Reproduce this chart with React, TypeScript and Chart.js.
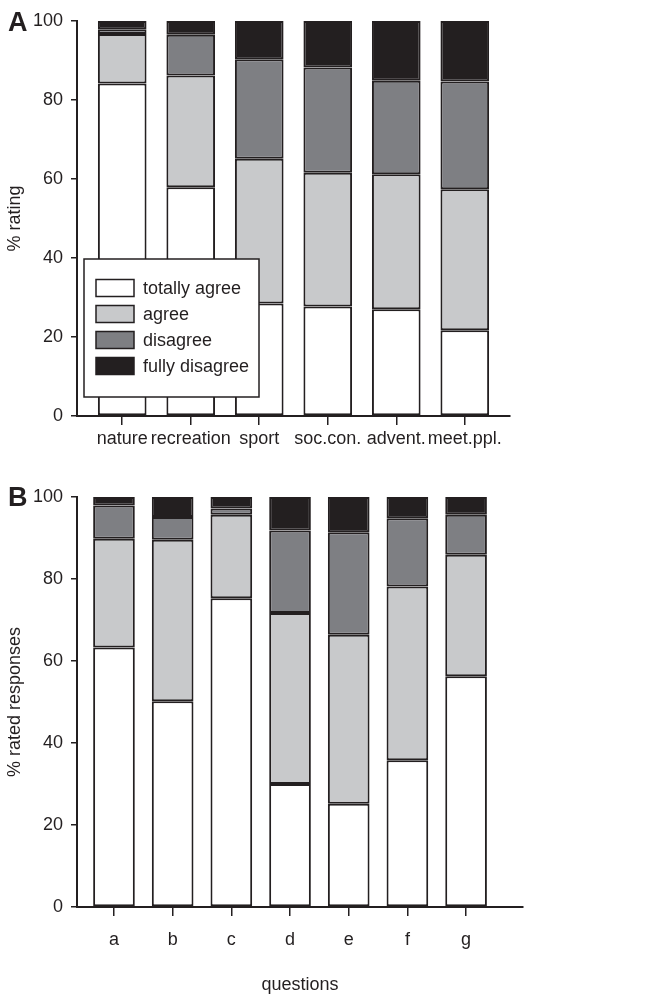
import React, { useEffect, useRef } from "react";
import { Chart, registerables } from "chart.js";

Chart.register(...registerables);

const seriesNames = ["totally agree", "agree", "disagree", "fully disagree"];
const seriesColors = ["#FFFFFF", "#C8C9CB", "#7E7F83", "#231F20"];

const categoriesA = ["nature", "recreation", "sport", "soc.con.", "advent.", "meet.ppl."];
const totallyAgreeA = [84.2, 57.9, 28.5, 27.7, 27.0, 21.7];
const agreeA = [12.5, 28.3, 36.6, 33.9, 34.2, 35.7];
const disagreeA = [1.2, 10.3, 25.2, 26.6, 23.7, 27.3];
const fullyDisagreeA = [2.1, 3.5, 9.7, 11.8, 15.1, 15.3];

const categoriesB = ["a", "b", "c", "d", "e", "f", "g"];
const totallyAgreeB = [63.3, 50.2, 75.3, 30.0, 25.2, 35.8, 56.3];
const agreeB = [26.5, 39.4, 20.4, 41.7, 41.2, 42.4, 29.6];
const disagreeB = [8.1, 5.5, 1.5, 20.1, 25.0, 16.6, 9.8];
const fullyDisagreeB = [2.1, 4.9, 2.8, 8.2, 8.6, 5.2, 4.3];

const yMin = 0;
const yMax = 100;
const yStep = 20;

const INK = "#231F20";
const FONT_FAMILY = '"Liberation Sans", Arial, sans-serif';
const FONT_SIZE = 18;

const insideLegend = {
  id: "insideLegend",
  afterDraw(chart: any, _args: any, opts: any) {
    if (!opts || !opts.display) return;
    const { ctx, chartArea } = chart;
    const x = chartArea.left + opts.dx;
    const y = chartArea.top + opts.dy;
    ctx.save();
    ctx.fillStyle = "#FFFFFF";
    ctx.fillRect(x, y, opts.w, opts.h);
    ctx.lineWidth = 1.5;
    ctx.strokeStyle = INK;
    ctx.strokeRect(x, y, opts.w, opts.h);
    ctx.font = `${opts.fontSize}px ${FONT_FAMILY}`;
    ctx.textBaseline = "middle";
    ctx.textAlign = "left";
    chart.data.datasets.forEach((ds: any, i: number) => {
      const cy = y + opts.rowTop + i * opts.rowGap;
      ctx.fillStyle = ds.backgroundColor;
      ctx.fillRect(x + 12, cy - 8.5, 38, 17);
      ctx.lineWidth = 1.5;
      ctx.strokeStyle = INK;
      ctx.strokeRect(x + 12, cy - 8.5, 38, 17);
      ctx.fillStyle = INK;
      ctx.fillText(ds.label, x + 59, cy + 1);
    });
    ctx.restore();
  },
};

function makeConfig(
  categories: string[],
  series: number[][],
  opts: {
    xMin: number;
    xMax: number;
    padRight: number;
    padTop: number;
    xHeight: number;
    xTickPad: number;
    yTitle: string;
    xTitle?: string;
    legend: boolean;
  }
): any {
  const font = { family: FONT_FAMILY, size: FONT_SIZE };
  return {
    type: "bar",
    data: {
      datasets: series.map((vals, k) => ({
        label: seriesNames[k],
        data: vals.map((v, i) => ({ x: i, y: v })),
        backgroundColor: seriesColors[k],
        borderColor: INK,
        borderWidth: 2,
        borderSkipped: false,
        barPercentage: 0.71,
        categoryPercentage: 1,
      })),
    },
    plugins: [insideLegend],
    options: {
      animation: false,
      responsive: false,
      maintainAspectRatio: false,
      layout: { padding: { left: 0, right: opts.padRight, top: opts.padTop, bottom: 0 } },
      plugins: {
        legend: { display: false },
        tooltip: { enabled: false },
        insideLegend: {
          display: opts.legend,
          dx: 7,
          dy: 238,
          w: 175,
          h: 138,
          rowTop: 29,
          rowGap: 26,
          fontSize: FONT_SIZE,
        },
      },
      scales: {
        x: {
          type: "linear",
          stacked: true,
          offset: false,
          min: opts.xMin,
          max: opts.xMax,
          afterBuildTicks: (s: any) => {
            s.ticks = categories.map((_, i) => ({ value: i }));
          },
          afterFit: (s: any) => {
            s.height = opts.xHeight;
          },
          ticks: {
            autoSkip: false,
            maxRotation: 0,
            minRotation: 0,
            padding: opts.xTickPad,
            color: INK,
            font,
            callback: (v: any) => categories[Math.round(Number(v))] ?? "",
          },
          grid: {
            offset: false,
            drawOnChartArea: false,
            drawTicks: true,
            tickLength: 9,
            color: INK,
            lineWidth: 1.5,
          },
          border: { display: true, color: INK, width: 2 },
          title: opts.xTitle
            ? {
                display: true,
                text: opts.xTitle,
                color: INK,
                font: { ...font, lineHeight: 1 },
                padding: { top: 0, bottom: 1 },
              }
            : { display: false },
        },
        y: {
          stacked: true,
          min: yMin,
          max: yMax,
          afterFit: (s: any) => {
            s.width = 77;
          },
          ticks: { stepSize: yStep, color: INK, font, padding: 8 },
          grid: {
            drawOnChartArea: false,
            drawTicks: true,
            tickLength: 6,
            color: INK,
            lineWidth: 1.5,
          },
          border: { display: true, color: INK, width: 2 },
          title: {
            display: true,
            text: opts.yTitle,
            color: INK,
            font,
            padding: { top: 4, bottom: 0 },
          },
        },
      },
    },
  };
}

function ChartPanel(props: { config: any; width: number; height: number; top: number }) {
  const ref = useRef<HTMLCanvasElement | null>(null);
  useEffect(() => {
    if (!ref.current) return;
    const chart = new Chart(ref.current, props.config);
    return () => chart.destroy();
  }, []);
  return (
    <canvas
      ref={ref}
      width={props.width}
      height={props.height}
      style={{ position: "absolute", left: 0, top: props.top, width: props.width, height: props.height }}
    />
  );
}

const letterStyle: React.CSSProperties = {
  position: "absolute",
  left: 8,
  fontFamily: '"Liberation Sans", Arial, sans-serif',
  fontWeight: "bold",
  fontSize: 27,
  lineHeight: "27px",
  color: INK,
};

export default function App() {
  const configA = makeConfig(categoriesA, [totallyAgreeA, agreeA, disagreeA, fullyDisagreeA], {
    xMin: -0.66,
    xMax: 5.66,
    padRight: 153,
    padTop: 21,
    xHeight: 54,
    xTickPad: 3,
    yTitle: "% rating",
    legend: true,
  });
  const configB = makeConfig(categoriesB, [totallyAgreeB, agreeB, disagreeB, fullyDisagreeB], {
    xMin: -0.63,
    xMax: 6.97,
    padRight: 140,
    padTop: 22,
    xHeight: 88,
    xTickPad: 13,
    yTitle: "% rated responses",
    xTitle: "questions",
    legend: false,
  });
  return (
    <div style={{ position: "absolute", left: 0, top: 0, width: 663, height: 995, background: "#fff" }}>
      <ChartPanel config={configA} width={663} height={470} top={0} />
      <ChartPanel config={configB} width={663} height={520} top={475} />
      <div style={{ ...letterStyle, top: 9 }}>A</div>
      <div style={{ ...letterStyle, top: 484 }}>B</div>
    </div>
  );
}
